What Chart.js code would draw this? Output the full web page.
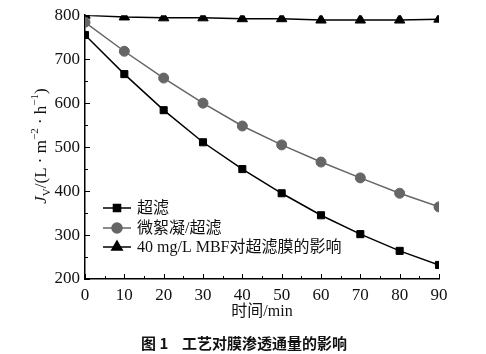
<!DOCTYPE html>
<html>
<head>
<meta charset="utf-8">
<script src="https://cdn.jsdelivr.net/npm/chart.js@4"></script>
<style>
  html, body { margin: 0; padding: 0; background: #fff; }
  #wrap { width: 486px; height: 354px; }
</style>
</head>
<body>
<div id="wrap"><canvas id="flux" width="486" height="354"></canvas></div>
<script>
// time points (min)
var times = [0, 10, 20, 30, 40, 50, 60, 70, 80, 90];
// flux values
var ufOnly = [755, 666, 584, 511, 450, 395, 345, 302, 264, 232];
var coagUf = [784, 718, 657, 600, 548, 505, 466, 430, 395, 364];
var mbfUf = [800, 796, 794, 794, 792, 792, 789, 789, 789, 791];
var seriesNames = ['超滤', '微絮凝/超滤', '40 mg/L MBF对超滤膜的影响'];
var xTicks = [0, 10, 20, 30, 40, 50, 60, 70, 80, 90];
var yTicks = [200, 300, 400, 500, 600, 700, 800];

var serif = '"Liberation Serif", "Times New Roman", serif';
var mixed = '"Liberation Serif", "Noto Sans CJK SC", serif';

function toPoints(vals) {
    return vals.map(function (v, i) { return { x: times[i], y: v }; });
}

// inward tick marks, legend, y title and caption
var extras = {
    id: 'extras',
    afterDraw: function (chart) {
        var ctx = chart.ctx;
        var xs = chart.scales.x, ys = chart.scales.y;
        var area = chart.chartArea;
        ctx.save();
        ctx.strokeStyle = '#000';
        ctx.lineWidth = 1;
        ctx.beginPath();
        for (var t = 0; t <= 90; t += 5) {
            var px = Math.round(xs.getPixelForValue(t)) + 0.5;
            var len = (t % 10 === 0) ? 5 : 3;
            ctx.moveTo(px, area.bottom);
            ctx.lineTo(px, area.bottom - len);
        }
        for (var v = 200; v <= 800; v += 50) {
            var py = Math.round(ys.getPixelForValue(v)) + 0.5;
            var l2 = (v % 100 === 0) ? 5 : 3;
            ctx.moveTo(area.left, py);
            ctx.lineTo(area.left + l2, py);
        }
        ctx.stroke();

        // legend
        var rows = [208, 228, 247];
        chart.data.datasets.forEach(function (ds, i) {
            var y = rows[i];
            ctx.strokeStyle = ds.borderColor;
            ctx.fillStyle = ds.backgroundColor;
            ctx.lineWidth = 1.5;
            ctx.beginPath();
            ctx.moveTo(103, y);
            ctx.lineTo(131, y);
            ctx.stroke();
            Chart.helpers.drawPoint(ctx, {
                pointStyle: ds.pointStyle,
                radius: ds.pointRadius,
                borderWidth: 1
            }, 117, y);
            ctx.fillStyle = '#111';
            ctx.font = '16px ' + mixed;
            ctx.textBaseline = 'middle';
            ctx.textAlign = 'left';
            ctx.fillText(ds.label, 137, y + 1);
        });

        // y axis title
        ctx.save();
        ctx.translate(40, 146);
        ctx.rotate(-Math.PI / 2);
        ctx.fillStyle = '#111';
        ctx.textBaseline = 'alphabetic';
        var parts = [
            { t: 'J', f: 'italic 17px ' + serif, dy: 0 },
            { t: 'V', f: '11px ' + serif, dy: 4 },
            { t: '/(L · m', f: '17px ' + serif, dy: 0 },
            { t: '−2', f: '11px ' + serif, dy: -8 },
            { t: ' · h', f: '17px ' + serif, dy: 0 },
            { t: '−1', f: '11px ' + serif, dy: -8 },
            { t: ')', f: '17px ' + serif, dy: 0 }
        ];
        var total = 0;
        parts.forEach(function (p) { ctx.font = p.f; p.w = ctx.measureText(p.t).width; total += p.w; });
        var cx = -total / 2;
        parts.forEach(function (p) {
            ctx.font = p.f;
            ctx.textAlign = 'left';
            ctx.fillText(p.t, cx, 6 + p.dy);
            cx += p.w;
        });
        ctx.restore();

        // caption
        ctx.fillStyle = '#111';
        ctx.font = 'bold 15px "Noto Sans CJK SC", sans-serif';
        ctx.textAlign = 'center';
        ctx.textBaseline = 'middle';
        ctx.fillText('图 1    工艺对膜渗透通量的影响', 244, 343);
        ctx.restore();
    }
};

var canvas = document.getElementById('flux');

var fluxChart = new Chart(canvas, {
    type: 'line',
    data: {
        datasets: [{
            label: seriesNames[0],
            data: toPoints(ufOnly),
            borderColor: '#000',
            backgroundColor: '#000',
            borderWidth: 1.5,
            pointStyle: 'rect',
            pointRadius: 5,
            pointBorderWidth: 1
        }, {
            label: seriesNames[1],
            data: toPoints(coagUf),
            borderColor: '#666',
            backgroundColor: '#666',
            borderWidth: 1.5,
            pointStyle: 'circle',
            pointRadius: 5,
            pointBorderWidth: 1
        }, {
            label: seriesNames[2],
            data: toPoints(mbfUf),
            borderColor: '#000',
            backgroundColor: '#000',
            borderWidth: 1.5,
            pointStyle: 'triangle',
            pointRadius: 6,
            pointBorderWidth: 1
        }]
    },
    options: {
        responsive: false,
        maintainAspectRatio: false,
        animation: false,
        layout: { padding: { left: 0, right: 47, top: 15, bottom: 33 } },
        scales: {
            x: {
                type: 'linear',
                min: 0,
                max: 90,
                afterFit: function (axis) { axis.height = 42; },
                afterBuildTicks: function (axis) {
                    axis.ticks = xTicks.map(function (v) { return { value: v }; });
                },
                grid: { display: false, drawTicks: false },
                border: { display: true, color: '#000', width: 1.5 },
                ticks: {
                    color: '#111',
                    padding: 6,
                    maxRotation: 0,
                    font: { family: serif, size: 17 }
                },
                title: {
                    display: true,
                    text: '时间/min',
                    color: '#111',
                    padding: { top: 0, bottom: 0 },
                    font: { family: mixed, size: 16 }
                }
            },
            y: {
                min: 200,
                max: 800,
                afterFit: function (axis) { axis.width = 85; },
                afterBuildTicks: function (axis) {
                    axis.ticks = yTicks.map(function (v) { return { value: v }; });
                },
                grid: { display: false, drawTicks: false },
                border: { display: true, color: '#000', width: 1.5 },
                ticks: {
                    color: '#111',
                    padding: 5,
                    font: { family: serif, size: 17 }
                }
            }
        },
        plugins: {
            legend: { display: false },
            tooltip: { enabled: false }
        }
    },
    plugins: [extras]
});
</script>
</body>
</html>
